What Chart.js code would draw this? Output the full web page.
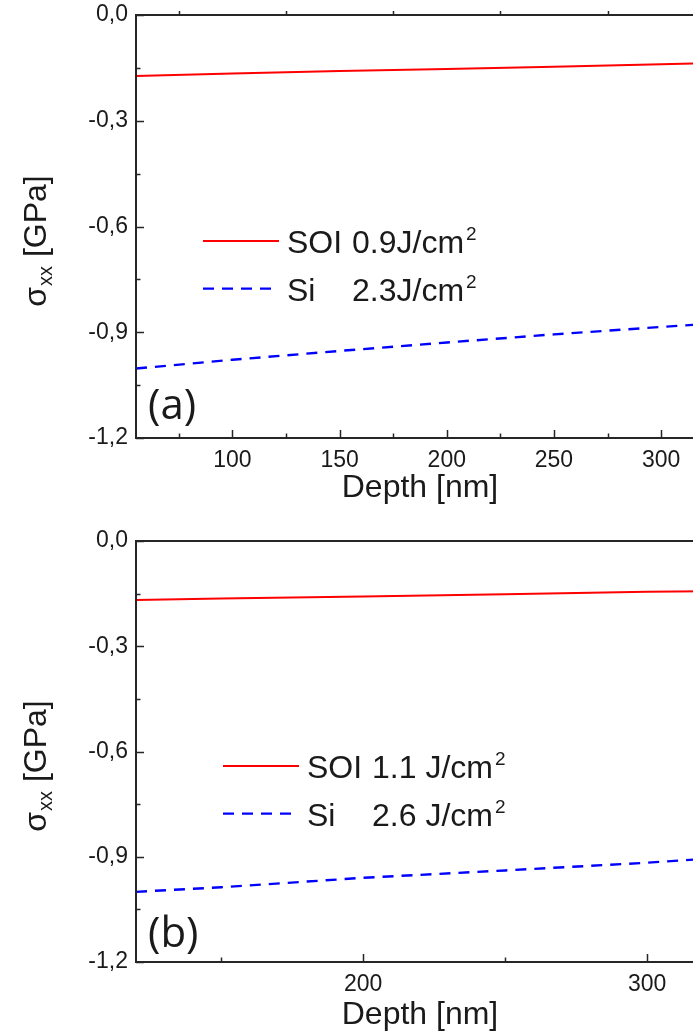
<!DOCTYPE html>
<html>
<head>
<meta charset="utf-8">
<script src="https://cdn.jsdelivr.net/npm/chart.js@4.4.1/dist/chart.umd.min.js"></script>
<style>
  html, body { margin: 0; padding: 0; background: #fff; overflow: hidden; width: 693px; height: 1036px; }
  .panel { position: absolute; left: 0; }
  #panel-a { top: 0; }
  #panel-b { top: 520px; }
</style>
</head>
<body>
<div class="panel" id="panel-a"><canvas id="chart-a" width="720" height="520"></canvas></div>
<div class="panel" id="panel-b"><canvas id="chart-b" width="720" height="516"></canvas></div>
<script>
// Profundidad [nm] y tensión sigma_xx [GPa] para cada panel
const profundidadA = [55, 100, 150, 200, 250, 300, 320];
const soiA = [-0.173, -0.166, -0.159, -0.153, -0.147, -0.140, -0.137];
const siA = [-1.003, -0.978, -0.953, -0.929, -0.906, -0.885, -0.877];

const profundidadB = [120, 150, 200, 250, 300, 320];
const soiB = [-0.168, -0.164, -0.158, -0.152, -0.145, -0.143];
const siB = [-1.000, -0.987, -0.960, -0.939, -0.917, -0.906];

// Leyendas (nombre y fluencia)
const nombres = ['SOI', 'Si'];
const fluenciaA = ['0.9J/cm', '2.3J/cm'];
const fluenciaB = ['1.1 J/cm', '2.6 J/cm'];

// Marcas de los ejes
const yTicks = [-1.2, -0.9, -0.6, -0.3, 0];
const yMenores = [-1.05, -0.75, -0.45, -0.15];
const xTicksA = [100, 150, 200, 250, 300];
const xMenoresA = [75, 125, 175, 225, 275];
const xSuperioresA = [75, 125, 175, 225, 275, 325];
const xTicksB = [200, 300];
const xMenoresB = [150, 250];

const colorTexto = '#1a1a1a';
const colorEje = '#262626';
const fuente = "'Liberation Sans', Arial, sans-serif";

// Plugin: marco, marcas hacia dentro, leyenda, etiqueta del panel y título del eje y
const decoracion = {
  id: 'decoracion',
  afterDatasetsDraw(chart, args, opts) {
    const ctx = chart.ctx;
    const area = chart.chartArea;
    const sx = chart.scales.x;
    const sy = chart.scales.y;
    ctx.save();

    // marco
    ctx.strokeStyle = colorEje;
    ctx.lineWidth = 2;
    ctx.strokeRect(area.left, area.top, area.right - area.left, area.bottom - area.top);

    ctx.lineWidth = 1.5;
    ctx.beginPath();
    yTicks.forEach(v => {
      const p = Math.round(sy.getPixelForValue(v)) + 0.5;
      ctx.moveTo(area.left, p); ctx.lineTo(area.left + 8, p);
    });
    yMenores.forEach(v => {
      const p = Math.round(sy.getPixelForValue(v)) + 0.5;
      ctx.moveTo(area.left, p); ctx.lineTo(area.left + 4.5, p);
    });
    opts.xTicks.forEach(v => {
      const p = Math.round(sx.getPixelForValue(v)) + 0.5;
      ctx.moveTo(p, area.bottom); ctx.lineTo(p, area.bottom - 8);
    });
    opts.xMenores.forEach(v => {
      const p = Math.round(sx.getPixelForValue(v)) + 0.5;
      ctx.moveTo(p, area.bottom); ctx.lineTo(p, area.bottom - 4.5);
    });
    opts.xSuperiores.forEach(v => {
      const p = Math.round(sx.getPixelForValue(v)) + 0.5;
      ctx.moveTo(p, area.top); ctx.lineTo(p, area.top - 4);
    });
    ctx.stroke();

    // leyenda dentro del área de trazado
    const lx = area.left + opts.leyenda.dx;
    chart.data.datasets.forEach((ds, i) => {
      const ly = area.top + opts.leyenda.dy + i * 47.6;
      ctx.strokeStyle = ds.borderColor;
      ctx.lineWidth = ds.borderWidth;
      ctx.setLineDash(ds.borderDash || []);
      ctx.beginPath();
      ctx.moveTo(lx, ly); ctx.lineTo(lx + 76, ly);
      ctx.stroke();
      ctx.setLineDash([]);

      ctx.fillStyle = colorTexto;
      ctx.textBaseline = 'alphabetic';
      ctx.textAlign = 'left';
      ctx.font = '32px ' + fuente;
      const base = ly + 12;
      ctx.fillText(ds.label, lx + 84, base);
      const vx = lx + opts.leyenda.columna;
      ctx.fillText(opts.fluencia[i], vx, base);
      const w = ctx.measureText(opts.fluencia[i]).width;
      ctx.font = '19px ' + fuente;
      ctx.fillText('2', vx + w + 2, base - 13);
    });

    // etiqueta del panel
    ctx.font = "42px 'Open Sans', sans-serif";
    ctx.fillStyle = colorTexto;
    ctx.fillText(opts.etiqueta, area.left + 12, area.bottom - opts.etiquetaDy);

    // título del eje y: sigma_xx [GPa]
    ctx.translate(46, (area.top + area.bottom) / 2 + 15);
    ctx.rotate(-Math.PI / 2);
    ctx.font = '32px ' + fuente;
    const t1 = 'σ', t2 = 'xx', t3 = ' [GPa]';
    const w1 = ctx.measureText(t1).width;
    const w3 = ctx.measureText(t3).width;
    ctx.font = '20px ' + fuente;
    const w2 = ctx.measureText(t2).width;
    let x0 = -(w1 + w2 + w3) / 2;
    ctx.font = '32px ' + fuente;
    ctx.fillText(t1, x0, 0);
    ctx.font = '20px ' + fuente;
    ctx.fillText(t2, x0 + w1 + 1, 6);
    ctx.font = '32px ' + fuente;
    ctx.fillText(t3, x0 + w1 + w2 + 1, 0);
    ctx.restore();
  }
};

function serie(xs, ys) {
  return xs.map((x, i) => ({ x: x, y: ys[i] }));
}

function crearPanel(canvasId, cfg) {
  return new Chart(document.getElementById(canvasId), {
    type: 'line',
    data: {
      datasets: [
        {
          label: nombres[0],
          data: serie(cfg.profundidad, cfg.soi),
          borderColor: '#ff0000',
          borderWidth: 2,
          pointRadius: 0,
          fill: false,
          tension: 0
        },
        {
          label: nombres[1],
          data: serie(cfg.profundidad, cfg.si),
          borderColor: '#0000ff',
          borderWidth: 2.4,
          borderDash: [11, 8],
          pointRadius: 0,
          fill: false,
          tension: 0
        }
      ]
    },
    options: {
      responsive: false,
      animation: false,
      devicePixelRatio: 1,
      layout: { padding: { top: cfg.padTop, right: 16, left: 0, bottom: 0 } },
      plugins: {
        legend: { display: false },
        tooltip: { enabled: false },
        decoracion: {
          xTicks: cfg.xTicks,
          xMenores: cfg.xMenores,
          xSuperiores: cfg.xSuperiores,
          leyenda: cfg.leyenda,
          fluencia: cfg.fluencia,
          etiqueta: cfg.etiqueta,
          etiquetaDy: cfg.etiquetaDy
        }
      },
      scales: {
        x: {
          type: 'linear',
          min: cfg.xMin,
          max: 320,
          grid: { display: false, drawTicks: false },
          border: { display: false },
          afterBuildTicks: s => { s.ticks = cfg.xTicks.map(v => ({ value: v })); },
          afterFit: s => {
            s.height = cfg.alturaX;
            s.paddingLeft = 0;
            s.paddingRight = 0;
          },
          ticks: {
            font: { family: fuente, size: 23 },
            color: colorTexto,
            padding: 9,
            maxRotation: 0,
            autoSkip: false
          },
          title: {
            display: true,
            text: 'Depth [nm]',
            font: { family: fuente, size: 32 },
            color: colorTexto,
            padding: { top: 0, bottom: cfg.pieTitulo }
          }
        },
        y: {
          type: 'linear',
          min: -1.2,
          max: 0,
          grid: { display: false, drawTicks: false },
          border: { display: false },
          afterBuildTicks: s => { s.ticks = yTicks.map(v => ({ value: v })); },
          afterFit: s => {
            s.width = 136;
            s.paddingTop = 0;
            s.paddingBottom = 0;
          },
          ticks: {
            font: { family: fuente, size: 23 },
            color: colorTexto,
            padding: 8,
            callback: v => v.toFixed(1).replace('.', ',')
          }
        }
      }
    },
    plugins: [decoracion]
  });
}

crearPanel('chart-a', {
  profundidad: profundidadA, soi: soiA, si: siA,
  xMin: 55, xTicks: xTicksA, xMenores: xMenoresA, xSuperiores: xSuperioresA,
  padTop: 15, alturaX: 82, pieTitulo: 13,
  leyenda: { dx: 67, dy: 226, columna: 149 },
  fluencia: fluenciaA, etiqueta: '(a)', etiquetaDy: 19
});

crearPanel('chart-b', {
  profundidad: profundidadB, soi: soiB, si: siB,
  xMin: 120, xTicks: xTicksB, xMenores: xMenoresB, xSuperiores: [],
  padTop: 21, alturaX: 74, pieTitulo: 2,
  leyenda: { dx: 87, dy: 225, columna: 149 },
  fluencia: fluenciaB, etiqueta: '(b)', etiquetaDy: 15
});
</script>
</body>
</html>
